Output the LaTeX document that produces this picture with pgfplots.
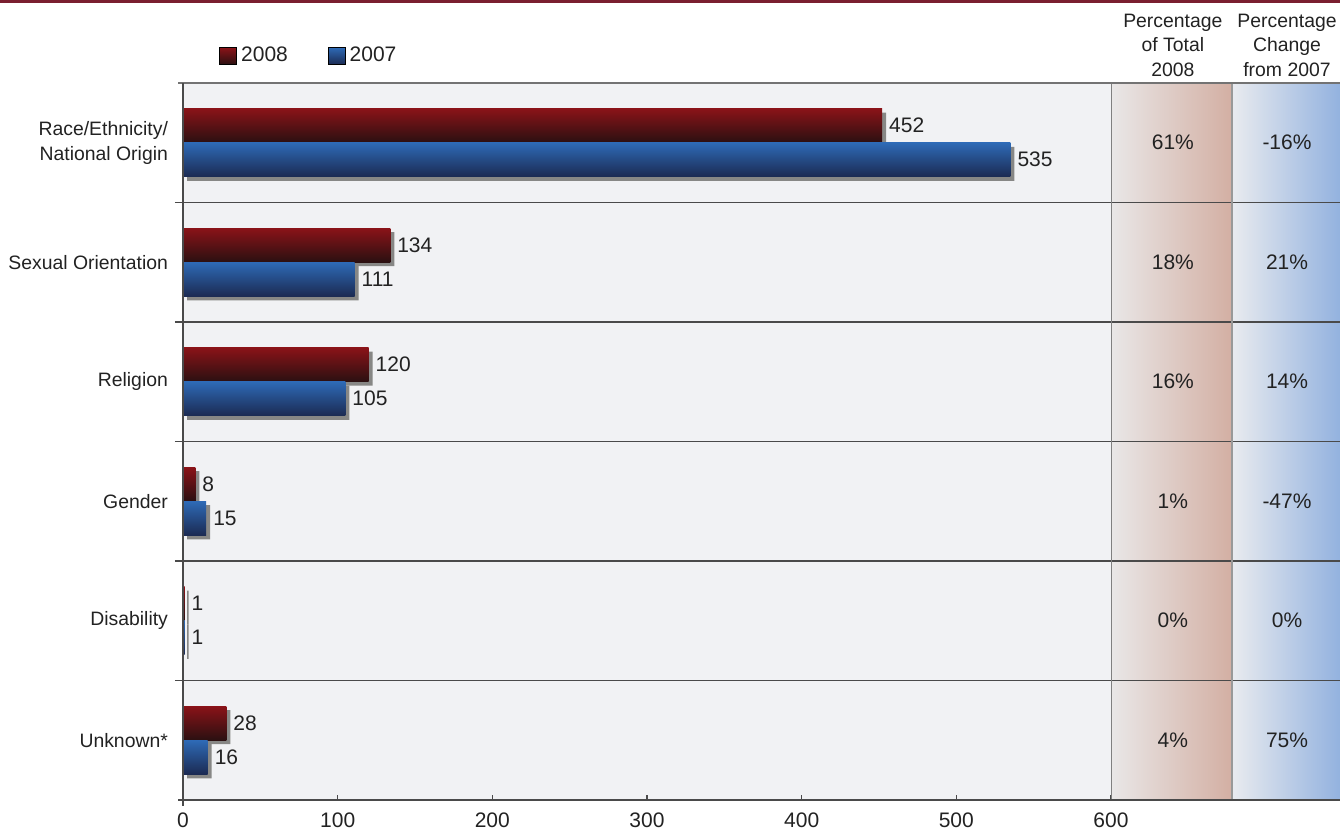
\documentclass[border=0pt]{standalone}
\usepackage{pgfplots}
\pgfplotsset{compat=1.18}
\usepackage{fontspec}
\setmainfont{Liberation Sans}
\definecolor{redtop}{HTML}{8A1318}
\definecolor{redmid}{HTML}{661014}
\definecolor{redbot}{HTML}{2A1011}
\definecolor{bluetop}{HTML}{2E6AB6}
\definecolor{bluemid}{HTML}{0C4EA1}
\definecolor{bluebot}{HTML}{1B2A52}
\definecolor{plotbg}{HTML}{F1F2F4}
\definecolor{topline}{HTML}{7A1F30}
\definecolor{sepc}{HTML}{4A4A4A}
\definecolor{shadowc}{HTML}{878785}
\definecolor{pAleft}{HTML}{E9E7E7}
\definecolor{pAright}{HTML}{D3AFA3}
\definecolor{pBleft}{HTML}{E9EBEF}
\definecolor{pBright}{HTML}{93B2DF}
\definecolor{txt}{HTML}{222222}
\newcommand{\cf}{\fontsize{9.7}{12.3}\selectfont}
\newcommand{\nf}{\fontsize{10.5}{12.6}\selectfont}
% one bar of each series per plot, so that each bar gets its own shading
\newcommand{\rbar}[2]{\addplot[xbar, forget plot, draw=none, top color=redtop, middle color=redmid, bottom color=redbot,
  bar width=0.285, bar shift=0.1425, nodes near coords, point meta=x,
  every node near coord/.append style={anchor=west, font=\nf, text=txt, yshift=8.5pt}]
  coordinates {(#1,#2)};}
\newcommand{\bbar}[2]{\addplot[xbar, forget plot, draw=none, top color=bluetop, middle color=bluemid, bottom color=bluebot,
  bar width=0.285, bar shift=-0.1425, nodes near coords, point meta=x,
  every node near coord/.append style={anchor=west, font=\nf, text=txt, yshift=-8.5pt}]
  coordinates {(#1,#2)};}
\begin{document}
\begin{tikzpicture}
\path[use as bounding box] (0pt,0pt) rectangle (670pt,417pt);
\fill[topline] (0pt,415.5pt) rectangle (670pt,417pt);
\begin{axis}[
  at={(91.5pt,17pt)}, anchor=south west,
  width=578.5pt, height=358.5pt, scale only axis,
  xmin=0, xmax=748.06, ymin=-0.5, ymax=5.5,
  clip=false,
  axis background/.style={fill=plotbg},
  axis lines*=left,
  axis line style={draw=none},
  xtick={0,100,...,600},
  tick align=inside,
  major tick length=2.5pt,
  xtick style={draw=sepc, line width=0.6pt},
  ytick={0,1,2,3,4,5},
  yticklabels={Unknown*,Disability,Gender,Religion,Sexual Orientation,{Race/Ethnicity/\\National Origin}},
  ytick style={draw=none},
  yticklabel style={align=right, font=\cf, text=txt, xshift=-4pt},
  xticklabel style={font=\nf, text=txt, yshift=-3pt},
  /pgf/number format/assume math mode=true,
  legend style={at={(rel axis cs:0.0311,1.0377)}, anchor=west, draw=none, fill=none, inner sep=0pt,
    font=\nf, text=txt, /tikz/every even column/.append style={column sep=18pt}},
  legend columns=2,
]
% right panels
\fill[left color=pAleft, right color=pAright] (axis cs:600,-0.5) rectangle (axis cs:678.2,5.5);
\fill[left color=pBleft, right color=pBright] (axis cs:678.2,-0.5) rectangle (axis cs:748.06,5.5);
% row separators
\draw[sepc, line width=0.6pt] (axis cs:-5.2,0.5) -- (axis cs:748.06,0.5);
\draw[sepc, line width=0.6pt] (axis cs:-5.2,1.5) -- (axis cs:748.06,1.5);
\draw[sepc, line width=0.6pt] (axis cs:-5.2,2.5) -- (axis cs:748.06,2.5);
\draw[sepc, line width=0.6pt] (axis cs:-5.2,3.5) -- (axis cs:748.06,3.5);
\draw[sepc, line width=0.6pt] (axis cs:-5.2,4.5) -- (axis cs:748.06,4.5);
% panel borders
\draw[gray, line width=0.5pt] (axis cs:600,-0.5) -- (axis cs:600,5.5);
\draw[black!40, line width=1.2pt] (axis cs:678.2,-0.5) -- (axis cs:678.2,5.5);
% shadows
\addplot[xbar, forget plot, fill=shadowc, draw=none, bar width=0.285, bar shift=0.1425, xshift=2pt, yshift=-2pt]
  coordinates {(452,5) (134,4) (120,3) (8,2) (1,1) (28,0)};
\addplot[xbar, forget plot, fill=shadowc, draw=none, bar width=0.285, bar shift=-0.1425, xshift=2pt, yshift=-2pt]
  coordinates {(535,5) (111,4) (105,3) (15,2) (1,1) (16,0)};
% bars 2008
\rbar{452}{5}
\rbar{134}{4}
\rbar{120}{3}
\rbar{8}{2}
\rbar{1}{1}
\rbar{28}{0}
% bars 2007
\bbar{535}{5}
\bbar{111}{4}
\bbar{105}{3}
\bbar{15}{2}
\bbar{1}{1}
\bbar{16}{0}
% percentage of total 2008
\addplot[forget plot, draw=none, mark=none, nodes near coords, point meta=explicit symbolic,
  every node near coord/.append style={anchor=center, font=\nf, text=txt}]
  coordinates {(640,5) [61\%] (640,4) [18\%] (640,3) [16\%] (640,2) [1\%] (640,1) [0\%] (640,0) [4\%]};
% percentage change from 2007
\addplot[forget plot, draw=none, mark=none, nodes near coords, point meta=explicit symbolic,
  every node near coord/.append style={anchor=center, font=\nf, text=txt}]
  coordinates {(713.8,5) [-16\%] (713.8,4) [21\%] (713.8,3) [14\%] (713.8,2) [-47\%] (713.8,1) [0\%] (713.8,0) [75\%]};
% axis lines
\draw[black!55, line width=1pt] (axis cs:-3,5.5) -- (axis cs:748.06,5.5);
\draw[sepc, line width=0.9pt] (axis cs:-3,-0.5) -- (axis cs:748.06,-0.5);
\draw[sepc, line width=0.9pt] (axis cs:0,-0.55) -- (axis cs:0,5.5);
% headers
\node[anchor=south, align=center, font=\cf, text=txt, inner sep=0pt, yshift=3pt] at (axis cs:640,5.5) {Percentage\\of Total\\2008};
\node[anchor=south, align=center, font=\cf, text=txt, inner sep=0pt, yshift=3pt] at (axis cs:713.8,5.5) {Percentage\\Change\\from 2007};
% legend
\addlegendimage{legend image code/.code={\fill[top color=redtop, bottom color=redbot] (0pt,-4.25pt) rectangle (8.5pt,4.25pt);}}
\addlegendentry{2008}
\addlegendimage{legend image code/.code={\fill[top color=bluetop, bottom color=bluebot] (0pt,-4.25pt) rectangle (8.5pt,4.25pt);}}
\addlegendentry{2007}
\end{axis}
\end{tikzpicture}
\end{document}
